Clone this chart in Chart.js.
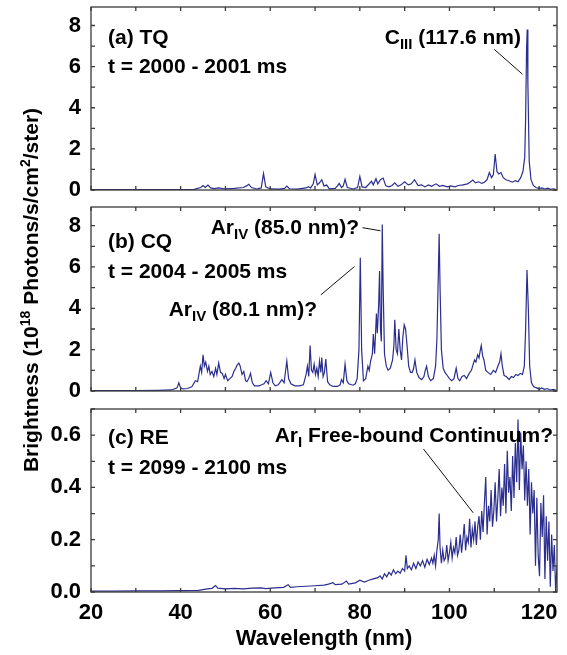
<!DOCTYPE html>
<html>
<head>
<meta charset="utf-8">
<script src="https://cdn.jsdelivr.net/npm/chart.js@4.4.1/dist/chart.umd.min.js"></script>
<style>
  html, body { margin: 0; padding: 0; background: #fff; }
  #wrap { position: relative; width: 567px; height: 655px; overflow: hidden; }
  canvas { position: absolute; left: 0; }
  #ytitle {
    position: absolute; left: -219px; top: 278px; width: 500px; height: 24px;
    line-height: 24px; text-align: center; white-space: nowrap;
    font: bold 21px 'Liberation Sans', Arial, sans-serif; color: #000;
    transform: rotate(-90deg);
  }
  #ytitle sup { font-size: 14px; line-height: 0; vertical-align: 8px; }
</style>
</head>
<body>
<div id="wrap">
  <canvas id="tq" width="567" height="200" style="top:0"></canvas>
  <canvas id="cq" width="567" height="200" style="top:200px"></canvas>
  <canvas id="re" width="567" height="255" style="top:400px"></canvas>
  <div id="ytitle">Brightness (10<sup>18</sup> Photons/s/cm<sup>2</sup>/ster)</div>
</div>
<script>
// (a) thermal quench, 2000-2001 ms
const waveTQ = [20, 30, 40, 43, 44.5, 45.0, 45.5, 46.1, 46.7, 47.5, 48.5, 50, 52, 54, 54.7, 55.2, 55.8, 57,
  58.0, 58.5, 59.0, 60, 62, 63.2, 63.7, 64.3, 66, 68.0, 68.5, 69.0, 69.6, 70.0, 70.5, 71.0, 71.5, 72.0, 72.6,
  73.2, 74.5, 75.0, 75.4, 75.9, 76.3, 76.7, 77.2, 78.5, 79.5, 80.0, 80.5, 81.3, 82.0, 82.6, 83.0, 83.6, 84.0,
  84.6, 85.2, 85.8, 86.5, 87.2, 87.8, 88.5, 89.2, 90.0, 90.8, 91.5, 92.2, 93.0, 93.8, 94.5, 95.3, 96.0, 97.0,
  97.8, 98.5, 99.5, 100.3, 101.2, 102.0, 103.0, 104.0, 104.6, 105.2, 105.8, 106.5, 107.2, 107.8, 108.4, 108.9,
  109.4, 109.8, 110.2, 110.6, 111.0, 111.5, 112.0, 112.6, 113.3, 114.0, 114.7, 115.3, 115.9, 116.4, 116.8,
  117.0, 117.2, 117.35, 117.5, 117.8, 118.2, 118.7, 119.3, 120.0, 120.6, 121.3, 121.9, 122.6, 123.2, 123.8];
const brightTQ = [0.02, 0.02, 0.02, 0.03, 0.12, 0.22, 0.12, 0.24, 0.1, 0.07, 0.1, 0.05, 0.08, 0.12, 0.2, 0.28, 0.12, 0.05,
  0.1, 0.8, 0.15, 0.05, 0.04, 0.08, 0.19, 0.06, 0.04, 0.1, 0.16, 0.1, 0.3, 0.75, 0.25, 0.35, 0.5, 0.2, 0.24,
  0.06, 0.08, 0.2, 0.32, 0.12, 0.2, 0.52, 0.12, 0.05, 0.12, 0.66, 0.15, 0.12, 0.28, 0.42, 0.25, 0.55, 0.3,
  0.5, 0.58, 0.2, 0.15, 0.22, 0.35, 0.18, 0.25, 0.4, 0.25, 0.3, 0.5, 0.22, 0.25, 0.15, 0.25, 0.18, 0.3,
  0.18, 0.22, 0.15, 0.2, 0.15, 0.22, 0.25, 0.3, 0.38, 0.48, 0.35, 0.4, 0.32, 0.38, 0.5, 0.85,
  0.6, 0.75, 1.75, 0.9, 0.78, 0.85, 0.6, 0.5, 0.45, 0.38, 0.45, 0.4, 0.6, 0.9, 1.6,
  3.5, 6.8, 7.8, 5.2, 1.4, 0.5, 0.22, 0.12, 0.08, 0.1, 0.05, 0.09, 0.03, 0.06, 0.02];

// (b) current quench, 2004-2005 ms
const waveCQ = [20, 30, 35, 38, 39.2, 39.6, 40.0, 40.5, 41.5, 42.5, 43.3, 43.8, 44.4, 44.7, 45.0, 45.3, 45.6, 46.0,
  46.3, 46.6, 47.0, 47.4, 47.8, 48.1, 48.5, 48.9, 49.3, 49.7, 50.0, 50.5, 51.0, 51.5, 51.9, 52.3, 52.6, 53.0,
  53.3, 53.7, 54.1, 54.5, 54.8, 55.2, 55.6, 56.0, 56.5, 57.5, 58.1, 58.6, 59.1, 59.6, 60.1, 60.6, 61.1, 61.8,
  62.6, 63.1, 63.7, 64.1, 64.6, 65.5, 66.5, 67.4, 68.0, 68.3, 68.6, 68.9, 69.2, 69.5, 69.8, 70.1, 70.4, 70.7,
  71.0, 71.3, 71.5, 71.8, 72.1, 72.4, 72.8, 73.3, 74.0, 75.0, 75.6, 75.9, 76.3, 76.7, 77.1, 77.5, 78.5, 79.0,
  79.4, 79.8, 80.1, 80.4, 80.8, 81.3, 81.8, 82.1, 82.4, 82.8, 83.0, 83.3, 83.7, 83.9, 84.2, 84.4, 84.6, 84.8,
  85.0, 85.2, 85.5, 85.9, 86.3, 86.8, 87.3, 87.6, 87.8, 88.1, 88.4, 88.7, 89.0, 89.3, 89.6, 89.9, 90.2, 90.5,
  90.9, 91.3, 91.7, 92.0, 92.3, 92.7, 93.2, 93.8, 94.3, 94.6, 94.9, 95.3, 95.8, 96.4, 96.9, 97.2, 97.5, 97.7,
  97.9, 98.2, 98.6, 99.0, 99.5, 100.0, 100.5, 101.0, 101.5, 101.9, 102.3, 102.8, 103.3, 103.8, 104.4, 104.9,
  105.3, 105.6, 105.9, 106.3, 106.6, 106.9, 107.1, 107.4, 107.7, 108.1, 108.6, 109.2, 109.8, 110.3, 110.8,
  111.2, 111.5, 111.8, 112.2, 112.7, 113.3, 113.8, 114.3, 114.8, 115.3, 115.8, 116.3, 116.7, 117.0, 117.3,
  117.6, 117.9, 118.3, 118.8, 119.5, 120.0, 120.6, 121.2, 121.8, 122.5, 123.2, 123.8];
const brightCQ = [0.02, 0.02, 0.03, 0.05, 0.15, 0.4, 0.15, 0.1, 0.12, 0.2, 0.5, 0.45, 1.2, 0.9, 1.75, 1.2, 1.4, 0.95,
  1.2, 0.8, 0.95, 0.7, 1.1, 0.8, 1.35, 0.9, 0.85, 0.6, 0.8, 0.5, 0.6, 0.7, 0.95, 1.1, 1.25, 1.35,
  1.2, 0.8, 0.95, 0.5, 0.45, 0.6, 0.85, 0.4, 0.25, 0.25, 0.3, 0.35, 0.5, 0.35, 0.9, 0.4, 0.25, 0.3,
  0.55, 0.4, 1.45, 0.6, 0.35, 0.25, 0.25, 0.3, 0.8, 1.2, 0.7, 2.2, 1.0, 0.9, 1.3, 0.8, 1.1, 0.7,
  1.45, 0.9, 1.62, 0.7, 0.9, 1.55, 0.45, 0.3, 0.22, 0.22, 0.3, 0.55, 0.4, 1.3, 0.5, 0.35, 0.28, 0.35,
  0.6, 2.0, 6.45, 2.0, 0.5, 0.6, 1.2, 1.0, 1.45, 1.8, 2.75, 1.8, 3.75, 2.8, 4.2, 5.8, 3.0, 2.4,
  8.05, 5.0, 1.8, 1.2, 1.0, 1.1, 1.5, 2.2, 3.45, 2.0, 1.8, 3.0, 2.0, 1.5, 2.6, 3.2, 3.0, 2.3,
  1.2, 0.9, 0.9, 1.1, 1.5, 0.9, 0.65, 0.55, 0.7, 1.0, 1.2, 0.7, 0.5, 0.6, 1.2, 2.5, 5.5, 7.6,
  5.0, 2.0, 1.1, 0.9, 0.75, 0.6, 0.5, 0.6, 1.1, 0.6, 0.5, 0.7, 0.75, 0.6, 0.85, 1.0,
  1.3, 1.5, 1.4, 1.75, 1.6, 2.0, 2.2, 1.7, 1.5, 1.0, 0.9, 0.8, 1.0, 0.9, 1.2,
  1.4, 1.8, 1.2, 0.75, 0.7, 0.55, 0.7, 0.65, 0.8, 0.75, 0.85, 0.8, 1.2, 3.0, 5.85,
  4.0, 1.2, 0.4, 0.2, 0.15, 0.08, 0.15, 0.08, 0.12, 0.05, 0.08, 0.03];

// (c) runaway electron plateau, 2099-2100 ms
const waveRE = [20, 25, 30, 35, 40, 44, 46, 47, 47.8, 48.3, 50, 52, 54, 56, 58, 59, 61, 63, 64, 64.5, 66, 68, 70,
  72, 73, 74, 74.5, 76, 77, 77.5, 79, 80, 81, 82, 83, 84,
  84.5, 85, 85.5, 86, 86.5, 87, 87.5, 88, 88.5, 89, 89.5, 90, 90.3, 90.6, 91, 91.5, 92, 92.5, 93, 93.5, 94,
  94.5, 95, 95.5, 96,
  96.3, 96.6, 96.9, 97.2, 97.5, 97.7, 97.9, 98.2, 98.5, 98.8, 99.1, 99.4, 99.7, 100.0, 100.3, 100.6, 100.9,
  101.2, 101.5, 101.8, 102.1, 102.4, 102.7, 103.0, 103.3, 103.6, 103.9, 104.2, 104.5, 104.8, 105.1, 105.4,
  105.7, 106.0, 106.3, 106.6, 106.9, 107.2, 107.5, 107.8, 108.1, 108.4, 108.7, 109.0, 109.3, 109.6, 109.9,
  110.2, 110.5, 110.8, 111.1, 111.4, 111.7, 112.0, 112.3, 112.6, 112.9, 113.2, 113.5, 113.8, 114.1, 114.4,
  114.7, 115.0, 115.3, 115.6, 115.9, 116.2, 116.5, 116.8, 117.1, 117.4, 117.7, 118.0, 118.3, 118.6, 118.9,
  119.2, 119.5, 119.8, 120.1, 120.4, 120.7, 121.0, 121.3, 121.6, 121.9, 122.2, 122.5, 122.8, 123.1, 123.4,
  123.7, 124.0];
const brightRE = [0.003, 0.003, 0.004, 0.004, 0.005, 0.006, 0.012, 0.014, 0.025, 0.015, 0.012, 0.014, 0.012, 0.015,
  0.016, 0.013, 0.016, 0.018, 0.028, 0.018, 0.02, 0.022, 0.024, 0.026, 0.03, 0.036, 0.028, 0.03, 0.042, 0.03,
  0.035, 0.045, 0.038, 0.045, 0.05, 0.055,
  0.062, 0.05, 0.07, 0.058, 0.075, 0.065, 0.085, 0.07, 0.08, 0.072, 0.09, 0.08, 0.14, 0.09, 0.1, 0.085, 0.11,
  0.09, 0.115, 0.1, 0.12, 0.095, 0.125, 0.105, 0.13,
  0.11, 0.14, 0.1, 0.16, 0.2, 0.3, 0.17, 0.11, 0.16, 0.12, 0.13, 0.18, 0.12, 0.15, 0.19, 0.13, 0.17,
  0.15, 0.21, 0.14, 0.16, 0.22, 0.15, 0.2, 0.26, 0.16, 0.21, 0.19, 0.28, 0.17, 0.24, 0.2,
  0.27, 0.18, 0.25, 0.29, 0.2, 0.31, 0.23, 0.34, 0.44, 0.22, 0.33, 0.27, 0.39, 0.25, 0.31,
  0.42, 0.27, 0.36, 0.47, 0.29, 0.4, 0.33, 0.49, 0.3, 0.54, 0.38, 0.44, 0.31, 0.52, 0.36,
  0.57, 0.42, 0.66, 0.39, 0.61, 0.47, 0.56, 0.35, 0.5, 0.33, 0.47, 0.22, 0.42, 0.3, 0.39,
  0.1, 0.36, 0.14, 0.06, 0.34, 0.21, 0.37, 0.05, 0.29, 0.12, 0.27, 0.02, 0.22, 0.08, 0.18,
  0.0, 0.1];

const FONT = "'Liberation Sans', Arial, sans-serif";
const LINE_COLOR = '#2b2e8f';
const FRAME_COLOR = '#3a3a3a';

function points(wave, bright) {
  return wave.map((w, i) => ({ x: w, y: bright[i] }));
}

// box around the plot with inward tick marks on all four sides
const framePlugin = {
  id: 'frame',
  afterDraw(chart) {
    const { ctx, chartArea: a, scales: { x, y } } = chart;
    ctx.save();
    ctx.strokeStyle = FRAME_COLOR;
    ctx.lineWidth = 1.3;
    ctx.strokeRect(a.left, a.top, a.right - a.left, a.bottom - a.top);
    ctx.beginPath();
    x.ticks.forEach(t => {
      const px = x.getPixelForValue(t.value);
      ctx.moveTo(px, a.bottom); ctx.lineTo(px, a.bottom - 4);
      ctx.moveTo(px, a.top); ctx.lineTo(px, a.top + 4);
    });
    y.ticks.forEach(t => {
      const py = y.getPixelForValue(t.value);
      ctx.moveTo(a.left, py); ctx.lineTo(a.left + 4, py);
      ctx.moveTo(a.right, py); ctx.lineTo(a.right - 4, py);
    });
    ctx.stroke();
    ctx.restore();
  }
};

// text with subscripts, plus leader lines given in data units
const notesPlugin = {
  id: 'notes',
  afterDraw(chart, args, opts) {
    const { ctx, scales: { x, y } } = chart;
    const mainFont = `bold 21px ${FONT}`;
    const subFont = `bold 15px ${FONT}`;
    ctx.save();
    ctx.fillStyle = '#000';
    ctx.textBaseline = 'alphabetic';
    (opts.texts || []).forEach(n => {
      const parts = n.parts.map(p => {
        ctx.font = p.sub ? subFont : mainFont;
        return { ...p, w: ctx.measureText(p.t).width };
      });
      const total = parts.reduce((s, p) => s + p.w, 0);
      let cx = n.align === 'right' ? n.x - total : n.x;
      parts.forEach(p => {
        ctx.font = p.sub ? subFont : mainFont;
        ctx.fillText(p.t, cx, p.sub ? n.y + 5 : n.y);
        cx += p.w;
      });
    });
    ctx.strokeStyle = '#111';
    ctx.lineWidth = 1;
    (opts.leaders || []).forEach(l => {
      ctx.beginPath();
      ctx.moveTo(x.getPixelForValue(l.from[0]), y.getPixelForValue(l.from[1]));
      ctx.lineTo(x.getPixelForValue(l.to[0]), y.getPixelForValue(l.to[1]));
      ctx.stroke();
    });
    ctx.restore();
  }
};

function makePanel(id, wave, bright, cfg) {
  const tickFont = { family: FONT, size: 22, weight: 'bold' };
  return new Chart(document.getElementById(id), {
    type: 'line',
    data: {
      datasets: [{
        data: points(wave, bright),
        borderColor: LINE_COLOR,
        borderWidth: 1.2,
        pointRadius: 0,
        tension: 0,
        fill: false
      }]
    },
    options: {
      responsive: false,
      animation: false,
      devicePixelRatio: 1,
      layout: { padding: { left: 0, right: 10, top: cfg.top, bottom: 0 } },
      scales: {
        x: {
          type: 'linear',
          min: 20,
          max: 124,
          grid: { display: false, drawTicks: false },
          border: { display: false },
          ticks: {
            display: cfg.xLabels,
            stepSize: 10,
            includeBounds: false,
            autoSkip: false,
            maxRotation: 0,
            padding: 8,
            color: '#000',
            font: tickFont,
            callback: v => (v % 20 === 0 ? v : '')
          },
          title: {
            display: cfg.xLabels,
            text: 'Wavelength (nm)',
            color: '#000',
            font: { family: FONT, size: 22, weight: 'bold' },
            padding: { top: 0, bottom: 3 }
          },
          afterFit: s => {
            s.height = cfg.xHeight;
            s.paddingLeft = 0;
            s.paddingRight = 0;
          }
        },
        y: {
          min: 0,
          max: cfg.yMax,
          grid: { display: false, drawTicks: false },
          border: { display: false },
          ticks: {
            stepSize: cfg.yStep,
            includeBounds: false,
            autoSkip: false,
            padding: 10,
            color: '#000',
            font: tickFont,
            callback: cfg.yLabel
          },
          afterFit: s => {
            s.width = 91;
            s.paddingTop = 0;
            s.paddingBottom = 0;
          }
        }
      },
      plugins: {
        legend: { display: false },
        tooltip: { enabled: false },
        notes: { texts: cfg.texts, leaders: cfg.leaders }
      }
    },
    plugins: [framePlugin, notesPlugin]
  });
}

const evenLabel = v => (v % 2 === 0 ? v : '');

makePanel('tq', waveTQ, brightTQ, {
  top: 7, xHeight: 10, xLabels: false, yMax: 8.9, yStep: 1, yLabel: evenLabel,
  texts: [
    { x: 108, y: 43.5, parts: [{ t: '(a) TQ' }] },
    { x: 108, y: 72.5, parts: [{ t: 't = 2000 - 2001 ms' }] },
    { x: 521, y: 43.5, align: 'right', parts: [{ t: 'C' }, { t: 'III', sub: true }, { t: ' (117.6 nm)' }] }
  ],
  leaders: [{ from: [110.0, 6.84], to: [116.3, 5.63] }]
});

makePanel('cq', waveCQ, brightCQ, {
  top: 7, xHeight: 9, xLabels: false, yMax: 8.9, yStep: 1, yLabel: evenLabel,
  texts: [
    { x: 108, y: 48, parts: [{ t: '(b) CQ' }] },
    { x: 108, y: 77.5, parts: [{ t: 't = 2004 - 2005 ms' }] },
    { x: 359, y: 34, align: 'right', parts: [{ t: 'Ar' }, { t: 'IV', sub: true }, { t: ' (85.0 nm)?' }] },
    { x: 317, y: 116, align: 'right', parts: [{ t: 'Ar' }, { t: 'IV', sub: true }, { t: ' (80.1 nm)?' }] }
  ],
  leaders: [
    { from: [80.6, 7.9], to: [84.6, 7.75] },
    { from: [71.3, 4.65], to: [78.8, 6.02] }
  ]
});

makePanel('re', waveRE, brightRE, {
  top: 9, xHeight: 63, xLabels: true, yMax: 0.7, yStep: 0.1,
  yLabel: v => (Math.round(v * 10) % 2 === 0 ? v.toFixed(1) : ''),
  texts: [
    { x: 108, y: 44, parts: [{ t: '(c) RE' }] },
    { x: 108, y: 74, parts: [{ t: 't = 2099 - 2100 ms' }] },
    { x: 553, y: 41.5, align: 'right', parts: [{ t: 'Ar' }, { t: 'I', sub: true }, { t: ' Free-bound Continuum?' }] }
  ],
  leaders: [{ from: [94.2, 0.547], to: [105.3, 0.303] }]
});
</script>
</body>
</html>
